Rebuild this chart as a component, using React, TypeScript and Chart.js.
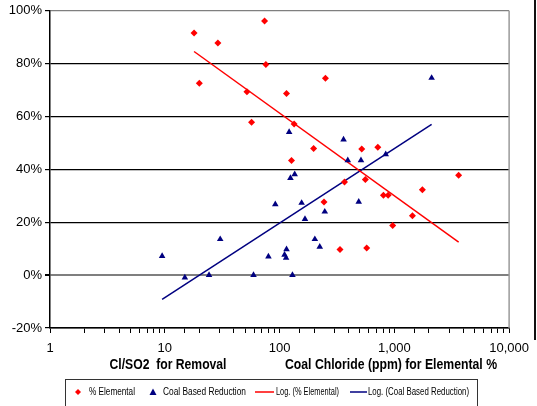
import React, { useEffect, useRef } from "react";
import { Chart, registerables } from "chart.js";

Chart.register(...registerables);

// % Elemental (red diamonds)
const elementalX = [18, 29, 74, 76, 20, 52, 57, 134, 127, 198, 520, 718, 368, 559, 244, 804, 883, 967, 336, 574, 251, 115, 3633, 1754, 1438];
const elementalY = [91.6, 87.8, 96.1, 79.7, 72.6, 69.4, 57.8, 57.2, 43.4, 47.9, 47.7, 48.4, 35.2, 36.2, 27.7, 30.2, 30.2, 18.8, 9.7, 10.3, 74.5, 68.7, 37.8, 32.3, 22.5];

// Coal Based Reduction (blue triangles)
const coalX = [9.48, 14.96, 24.3, 30.4, 59.3, 80, 91.8, 110.5, 114, 115, 121.2, 124.4, 129.5, 135.5, 155.7, 166.5, 203, 224, 247.7, 361, 393, 489.6, 512, 841, 2113];
const coalY = [7.2, -0.9, 0, 13.6, 0, 7.0, 26.8, 7.7, 6.5, 9.8, 54.1, 36.7, 0, 38.1, 27.3, 21.2, 13.6, 10.7, 24.0, 51.3, 43.4, 27.7, 43.4, 45.7, 74.6];

// Logarithmic trend lines (end points)
const trendElementalX = [18, 3633];
const trendElementalY = [84.6, 12.5];
const trendCoalX = [9.48, 2113];
const trendCoalY = [-9.2, 57.0];

const yTicks = [-20, 0, 20, 40, 60, 80, 100];
const legendLabels = ["% Elemental", "Coal Based Reduction", "Log. (% Elemental)", "Log. (Coal Based Reduction)"];
const axisTitleLeft = "Cl/SO2  for Removal";
const axisTitleRight = "Coal Chloride (ppm) for Elemental %";

const RED = "#FF0000";
const BLUE = "#000080";

const toPts = (xs: number[], ys: number[]) => xs.map((x, i) => ({ x, y: ys[i] }));

export default function App() {
  const ref = useRef<HTMLCanvasElement | null>(null);

  useEffect(() => {
    document.body.style.margin = "0";
    const canvas = ref.current;
    if (!canvas) return;

    const decor = {
      id: "decor",
      afterDraw(chart: any) {
        const ctx = chart.ctx;
        const area = chart.chartArea;
        ctx.save();
        // plot right border
        ctx.strokeStyle = "#9a9a9a";
        ctx.lineWidth = 1.5;
        ctx.beginPath();
        ctx.moveTo(area.right, area.top);
        ctx.lineTo(area.right, area.bottom);
        ctx.stroke();
        // outer right frame line
        ctx.strokeStyle = "#111";
        ctx.lineWidth = 2;
        ctx.beginPath();
        ctx.moveTo(535, 0);
        ctx.lineTo(535, 340);
        ctx.stroke();

        // axis titles
        ctx.fillStyle = "#000";
        ctx.font = "bold 14px Arial, 'Liberation Sans', sans-serif";
        ctx.textAlign = "center";
        ctx.textBaseline = "middle";
        ctx.fillText(axisTitleLeft, 168, 365, 117);
        ctx.fillText(axisTitleRight, 391, 365, 212);

        // legend box
        ctx.strokeStyle = "#333";
        ctx.lineWidth = 1;
        ctx.strokeRect(65.5, 379.5, 412, 40);
        const ly = 392;
        ctx.font = "10.5px Arial, 'Liberation Sans', sans-serif";
        ctx.textAlign = "left";
        // red diamond
        ctx.fillStyle = RED;
        ctx.beginPath();
        ctx.moveTo(78, ly - 3);
        ctx.lineTo(81, ly);
        ctx.lineTo(78, ly + 3);
        ctx.lineTo(75, ly);
        ctx.closePath();
        ctx.fill();
        ctx.fillStyle = "#000";
        ctx.fillText(legendLabels[0], 89, ly, 46);
        // blue triangle
        ctx.fillStyle = BLUE;
        ctx.beginPath();
        ctx.moveTo(153, ly - 3.5);
        ctx.lineTo(156.5, ly + 3);
        ctx.lineTo(149.5, ly + 3);
        ctx.closePath();
        ctx.fill();
        ctx.fillStyle = "#000";
        ctx.fillText(legendLabels[1], 163, ly, 83);
        // red line
        ctx.strokeStyle = RED;
        ctx.lineWidth = 1.5;
        ctx.beginPath();
        ctx.moveTo(255, ly);
        ctx.lineTo(274, ly);
        ctx.stroke();
        ctx.fillText(legendLabels[2], 276, ly, 63);
        // blue line
        ctx.strokeStyle = BLUE;
        ctx.beginPath();
        ctx.moveTo(350, ly);
        ctx.lineTo(367, ly);
        ctx.stroke();
        ctx.fillText(legendLabels[3], 368, ly, 101);
        ctx.restore();
      },
    };

    const chart = new Chart(canvas, {
      type: "scatter",
      data: {
        datasets: [
          {
            label: legendLabels[2],
            data: toPts(trendElementalX, trendElementalY),
            showLine: true,
            borderColor: RED,
            borderWidth: 1.5,
            pointRadius: 0,
            order: 3,
          },
          {
            label: legendLabels[3],
            data: toPts(trendCoalX, trendCoalY),
            showLine: true,
            borderColor: BLUE,
            borderWidth: 1.5,
            pointRadius: 0,
            order: 4,
          },
          {
            label: legendLabels[0],
            data: toPts(elementalX, elementalY),
            pointStyle: "rectRot",
            pointRadius: 3.5,
            backgroundColor: RED,
            borderColor: RED,
            borderWidth: 0,
            order: 1,
          },
          {
            label: legendLabels[1],
            data: toPts(coalX, coalY),
            pointStyle: "triangle",
            pointRadius: 3.8,
            backgroundColor: BLUE,
            borderColor: BLUE,
            borderWidth: 0,
            order: 2,
          },
        ],
      },
      options: {
        animation: false,
        responsive: false,
        devicePixelRatio: 1,
        layout: { padding: { left: 0, top: 10, right: 23, bottom: 0 } },
        plugins: { legend: { display: false }, tooltip: { enabled: false } },
        scales: {
          x: {
            type: "logarithmic",
            min: 1,
            max: 10000,
            afterFit: (s: any) => {
              s.height = 78;
            },
            grid: {
              drawOnChartArea: false,
              drawTicks: true,
              tickLength: 5,
              color: "#000",
            },
            border: { display: true, color: "#000", width: 1.5 },
            ticks: {
              autoSkip: false,
              maxRotation: 0,
              padding: 8,
              color: "#000",
              font: { family: "Arial, 'Liberation Sans', sans-serif", size: 13 },
              callback: (v: any) => {
                const l = Math.log10(Number(v));
                return Math.abs(l - Math.round(l)) < 1e-9 ? Number(v).toLocaleString("en-US") : "";
              },
            },
          },
          y: {
            min: -20,
            max: 100,
            afterFit: (s: any) => {
              s.width = 50;
            },
            afterBuildTicks: (s: any) => {
              s.ticks = yTicks.map((v) => ({ value: v }));
            },
            grid: {
              color: (c: any) => (c.tick && (c.tick.value === 0 || c.tick.value === 100) ? "#7f7f7f" : "#000"),
              lineWidth: (c: any) => (c.tick && c.tick.value === 0 ? 2 : 1.2),
              tickLength: 5,
              tickColor: "#000",
            },
            border: { display: true, color: "#000", width: 1.5 },
            ticks: {
              padding: 3,
              color: "#000",
              font: { family: "Arial, 'Liberation Sans', sans-serif", size: 13 },
              callback: (v: any) => `${v}%`,
            },
          },
        },
      },
      plugins: [decor],
    });

    return () => chart.destroy();
  }, []);

  return (
    <div style={{ width: 537, height: 406, background: "#fff" }}>
      <canvas ref={ref} width={537} height={406} style={{ display: "block", width: 537, height: 406 }} />
    </div>
  );
}
